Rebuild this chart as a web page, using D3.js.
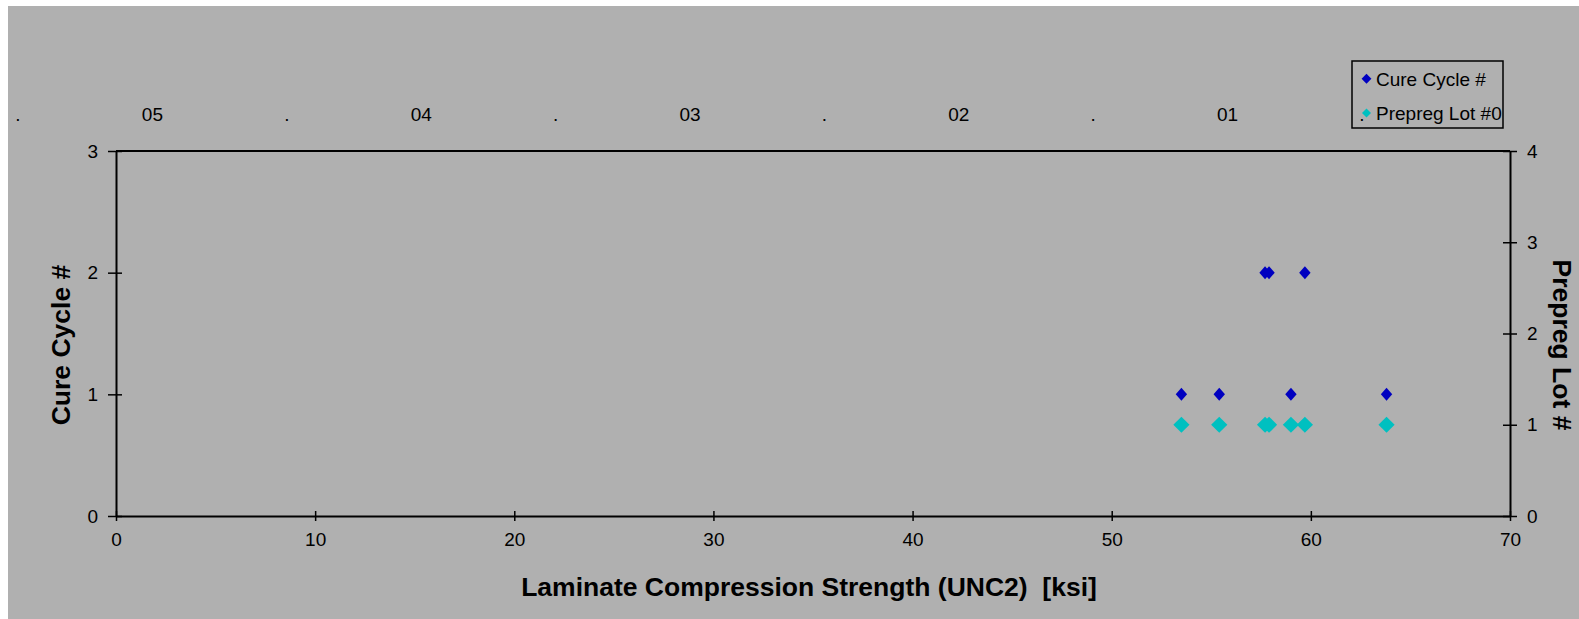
<!DOCTYPE html>
<html>
<head>
<meta charset="utf-8">
<script src="https://cdn.jsdelivr.net/npm/d3@7"></script>
<style>
  body { margin: 0; background: #ffffff; }
  text { font-family: "Liberation Sans", Arial, sans-serif; }
</style>
</head>
<body>
<svg id="chart" width="1579" height="619"></svg>
<script>
// data
const strength   = [53.5, 55.4, 57.7, 57.9, 59.0, 59.7, 63.8];
const cureCycle  = [1, 1, 2, 2, 1, 2, 1];
const prepregLot = [1, 1, 1, 1, 1, 1, 1];
const topLabels  = [".", "05", ".", "04", ".", "03", ".", "02", ".", "01", "."];
const xTicks = [0, 10, 20, 30, 40, 50, 60, 70];
const yLeftTicks = [0, 1, 2, 3];
const yRightTicks = [0, 1, 2, 3, 4];

let chart = d3.select("#chart");

chart.append("rect")
    .attr("x", 8).attr("y", 6)
    .attr("width", 1579 - 8).attr("height", 619 - 6)
    .style("fill", "#b0b0b0");

let x = d3.scaleLinear().domain([0, 70]).range([116, 1510]);
let yL = d3.scaleLinear().domain([0, 3]).range([516, 151]);
let yR = d3.scaleLinear().domain([0, 4]).range([516, 151]);

// top row of category-like labels
let topPos = d3.scalePoint().domain(d3.range(topLabels.length)).range([18, 1362]);
chart.selectAll(".toplab")
    .data(topLabels)
    .enter()
    .append("text")
    .attr("class", "toplab")
    .attr("x", (d, i) => topPos(i))
    .attr("y", 120.5)
    .style("text-anchor", "middle")
    .style("font-size", "19px")
    .style("fill", "#000")
    .text(d => d);

function styleAxis(g) {
    g.selectAll("path").style("stroke", "#000").style("stroke-width", "2px");
    g.selectAll("line").style("stroke", "#000").style("stroke-width", "1.5px");
    g.selectAll("text").style("font-size", "19px").style("fill", "#000")
        .style("font-family", "'Liberation Sans', Arial, sans-serif");
}

// frame line on top
chart.append("line")
    .attr("x1", x(0)).attr("x2", x(70))
    .attr("y1", yL(3)).attr("y2", yL(3))
    .style("stroke", "#000").style("stroke-width", "2px");

let xAxis = d3.axisBottom(x).tickValues(xTicks).tickSize(5).tickSizeOuter(0).tickPadding(12);
let xg = chart.append("g")
    .attr("transform", "translate(0," + yL(0) + ")")
    .call(xAxis);
xg.selectAll(".tick line").attr("y1", -5).attr("y2", 5);
styleAxis(xg);

let yAxisL = d3.axisLeft(yL).tickValues(yLeftTicks).tickFormat(d3.format("d")).tickSize(8).tickSizeOuter(0).tickPadding(10);
let ylg = chart.append("g")
    .attr("transform", "translate(" + x(0) + ",0)")
    .call(yAxisL);
ylg.selectAll(".tick line").attr("x1", -8).attr("x2", 6);
styleAxis(ylg);

let yAxisR = d3.axisRight(yR).tickValues(yRightTicks).tickFormat(d3.format("d")).tickSize(7).tickSizeOuter(0).tickPadding(10);
let yrg = chart.append("g")
    .attr("transform", "translate(" + x(70) + ",0)")
    .call(yAxisR);
yrg.selectAll(".tick line").attr("x1", -7).attr("x2", 7);
styleAxis(yrg);

// axis titles
chart.append("text")
    .text("Laminate Compression Strength (UNC2)  [ksi]")
    .attr("x", 809).attr("y", 596)
    .style("text-anchor", "middle")
    .style("font-size", "26.5px")
    .style("font-weight", "bold")
    .style("white-space", "pre")
    .style("fill", "#000");

chart.append("text")
    .text("Cure Cycle #")
    .attr("transform", "translate(70,345) rotate(-90)")
    .style("text-anchor", "middle")
    .style("font-size", "26.5px")
    .style("font-weight", "bold")
    .style("fill", "#000");

chart.append("text")
    .text("Prepreg Lot #")
    .attr("transform", "translate(1553,345) rotate(90)")
    .style("text-anchor", "middle")
    .style("font-size", "26.5px")
    .style("font-weight", "bold")
    .style("fill", "#000");

const diamond = d3.symbol().type(d3.symbolDiamond2);

// prepreg lot series (right axis)
chart.selectAll(".lot")
    .data(strength)
    .enter()
    .append("path")
    .attr("class", "lot")
    .attr("d", diamond.size(168)())
    .attr("transform", (d, i) => "translate(" + x(d) + "," + yR(prepregLot[i]) + ")")
    .style("fill", "#00c0c0");

// cure cycle series (left axis)
chart.selectAll(".cure")
    .data(strength)
    .enter()
    .append("path")
    .attr("class", "cure")
    .attr("d", diamond.size(92)())
    .attr("transform", (d, i) => "translate(" + x(d) + "," + yL(cureCycle[i]) + ") scale(0.95,1.08)")
    .style("fill", "#0000c0");

// legend
let legend = chart.append("g");
legend.append("rect")
    .attr("x", 1352).attr("y", 61)
    .attr("width", 151).attr("height", 67)
    .style("fill", "none")
    .style("stroke", "#000")
    .style("stroke-width", "1.5px");
legend.append("path")
    .attr("d", diamond.size(62)())
    .attr("transform", "translate(1366.5,78.7)")
    .style("fill", "#0000c0");
legend.append("text")
    .attr("x", 1376).attr("y", 85.5)
    .style("font-size", "19px")
    .style("fill", "#000")
    .text("Cure Cycle #");
legend.append("path")
    .attr("d", diamond.size(52)())
    .attr("transform", "translate(1366.5,113)")
    .style("fill", "#00c0c0");
legend.append("text")
    .attr("x", 1376).attr("y", 120)
    .style("font-size", "19px")
    .style("fill", "#000")
    .text("Prepreg Lot #0");
</script>
</body>
</html>
